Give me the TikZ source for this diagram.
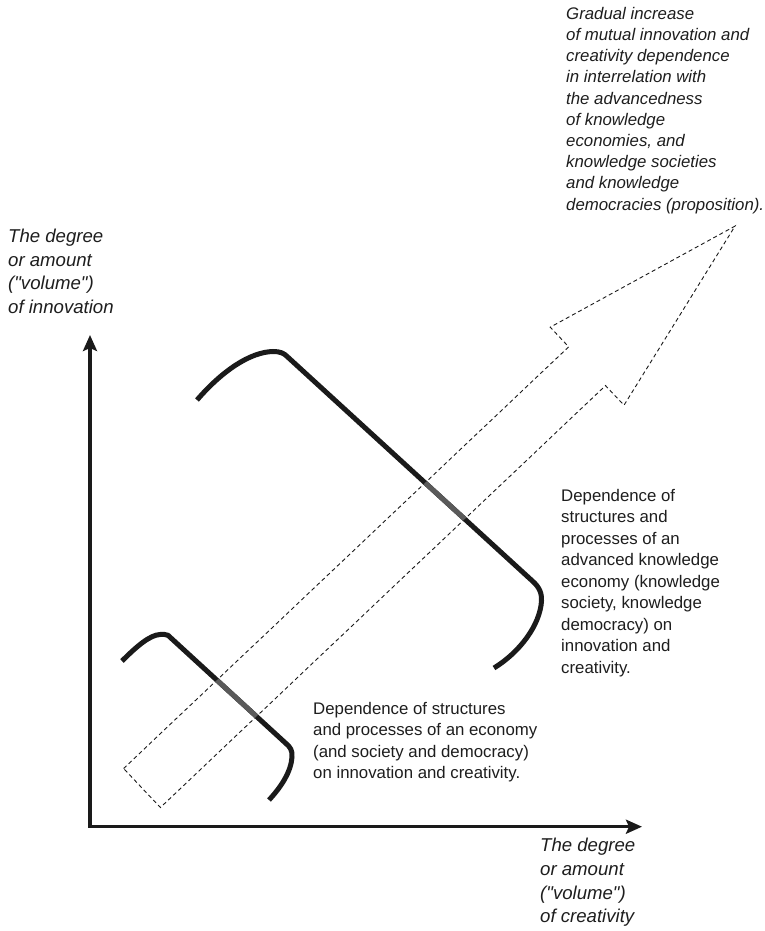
\documentclass[tikz,border=0pt]{standalone}
\usepackage{fontspec}
\setmainfont{Liberation Sans}
\newfontfamily\labfont{Liberation Sans}
\usetikzlibrary{arrows.meta}
\definecolor{ink}{RGB}{26,26,26}
\definecolor{midgray}{RGB}{90,90,90}
\definecolor{txt}{RGB}{30,30,30}
\newcommand\bigBr{(197,400) .. controls (222,371) and (250,352) .. (273,351.5) .. controls (280,351.5) and (284,353) .. (288,357.3) -- (530,578.8) .. controls (537,585) and (542,590) .. (541.5,601) .. controls (540,625) and (520,652) .. (494,668)}
\newcommand\smallBr{(122,661) .. controls (137,646) and (150,635) .. (160,634.5) .. controls (163,634.3) and (165,634) .. (168,635.3) -- (286,743.5) .. controls (290,747) and (292.5,750) .. (292,757) .. controls (291,772) and (281,787) .. (269,800)}
\tikzset{
  axisline/.style={line width=3.2pt, color=ink, line join=miter,
    arrows={Stealth[length=16pt,width=14pt,inset=3pt]-Stealth[length=16pt,width=14pt,inset=3pt]}},
  brack/.style={line width=5pt, color=ink, line cap=butt},
  brackin/.style={line width=5pt, color=midgray, line cap=butt},
  dasharrow/.style={line width=0.9pt, color=ink, dash pattern=on 4pt off 3pt},
  bodytext/.style={anchor=north west, inner sep=0pt, align=left, text=txt,
    font=\labfont\fontsize{16.8}{21.5}\selectfont},
  axislabel/.style={anchor=north west, inner sep=0pt, align=left, text=txt,
    font=\labfont\fontsize{18.6}{23.5}\selectfont\itshape},
}
\begin{document}
\begin{tikzpicture}[x=1pt,y=-1pt]
\useasboundingbox (0,0) rectangle (765,931);
\fill[white] (0,0) rectangle (765,931);
% dashed block arrow
\coordinate (s1) at (123.6,768.5);
\coordinate (s2) at (160.4,807.5);
\coordinate (s3) at (605.5,385.6);
\coordinate (s4) at (568.7,346.8);
\coordinate (h1) at (550.2,327.2);
\coordinate (h2) at (624.0,405.2);
\coordinate (tip) at (735.0,226.1);
\draw[dasharrow] (s1) -- (s4) -- (h1) -- (tip) -- (h2) -- (s3) -- (s2) -- cycle;
% brackets
\draw[brack] \bigBr;
\draw[brack] \smallBr;
\begin{scope}
  \clip (s1) -- (s4) -- (s3) -- (s2) -- cycle;
  \draw[brackin] \bigBr;
  \draw[brackin] \smallBr;
\end{scope}
% axes
\coordinate (ytip) at (90,335);
\coordinate (origin) at (90,826.7);
\coordinate (xtip) at (642,826.7);
\draw[axisline] (ytip) -- (origin) -- (xtip);
% texts
\node[bodytext, font=\labfont\fontsize{16.8}{21.2}\selectfont\itshape] (topR) at (566,7)
  {Gradual increase\\of mutual innovation and\\creativity dependence\\in interrelation with\\the advancedness\\of knowledge\\economies, and\\knowledge societies\\and knowledge\\democracies (proposition).};
\node[axislabel] (leftL) at (8,229)
  {The degree\\or amount\\("volume")\\of innovation};
\node[axislabel, font=\labfont\fontsize{18.6}{23.7}\selectfont\itshape] (botL) at (540,838)
  {The degree\\or amount\\("volume")\\of creativity};
\node[bodytext] (rightT) at (561,489)
  {Dependence of\\structures and\\processes of an\\advanced knowledge\\economy (knowledge\\society, knowledge\\democracy) on\\innovation and\\creativity.};
\node[bodytext] (lowT) at (313,702)
  {Dependence of structures\\and processes of an economy\\(and society and democracy)\\on innovation and creativity.};
\end{tikzpicture}
\end{document}
